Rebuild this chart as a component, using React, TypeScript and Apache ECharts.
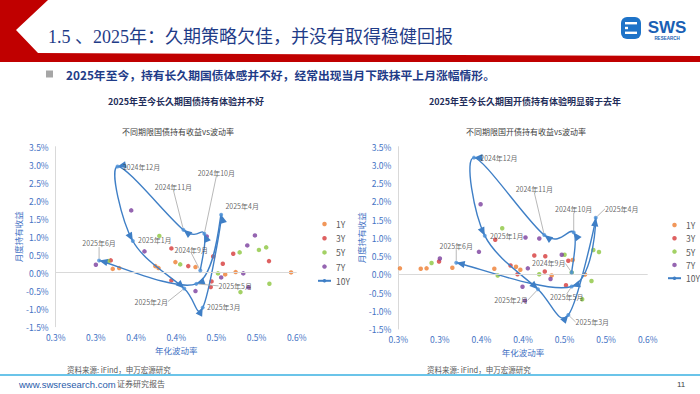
import React, { useEffect, useRef } from "react";
import * as echarts from "echarts";

// ---------- data ----------
const legendNames = ["1Y", "3Y", "5Y", "7Y", "10Y"];
const monthLabels = [
  "2024年9月", "2024年10月", "2024年11月", "2024年12月", "2025年1月",
  "2025年2月", "2025年3月", "2025年4月", "2025年5月", "2025年6月",
];

// 国债 (left)  [annualised volatility %, monthly holding return %]
const gz1Y = [[0.321, 0.106], [0.329, 0.128], [0.374, 0.183], [0.378, 0.128], [0.399, 0.294], [0.424, 0.156], [0.461, -0.047], [0.474, 0.017], [0.543, 0.008]];
const gz3Y = [[0.3185, 0.342], [0.394, 0.675], [0.415, 0.183], [0.446, 0.453], [0.458, 0.25], [0.471, 0.528], [0.5155, 0.322], [0.394, -0.214], [0.444, -0.242], [0.443, -0.4]];
const gz5Y = [[0.3155, 0.322], [0.379, 1.022], [0.405, 0.231], [0.479, 0.564], [0.503, 0.633], [0.512, 0.703], [0.452, -0.019], [0.516, -0.306], [0.48, -0.539]];
const gz7Y = [[0.3, 0.222], [0.344, 1.731], [0.3605, 0.592], [0.4885, 0.758], [0.498, 1.036], [0.438, 1.008], [0.456, -0.131], [0.4835, -0.019], [0.424, -0.511], [0.49, -0.408]];
const gz10Y = [[0.43, 0.06], [0.435, 1.08], [0.409, 1.19], [0.327, 2.95], [0.346, 0.88], [0.41, -0.44], [0.433, -0.97], [0.456, 1.61], [0.425, -0.31], [0.304, 0.34]];

// 国开债 (right)
const gk1Y = [[0.252, 0.164], [0.277, 0.153], [0.284, 0.164], [0.315, 0.181], [0.3655, 0.153], [0.3916, 0.208], [0.3968, 0.126], [0.4345, -0.033], [0.4598, 0.392], [0.4746, -0.005]];
const gk3Y = [[0.299, 0.351], [0.3666, 0.948], [0.385, 0.241], [0.3934, 0.003], [0.4136, 0.515], [0.4268, 0.496], [0.4545, 0.373], [0.4262, 0.077], [0.4517, -0.301]];
const gk5Y = [[0.29, 0.31], [0.375, 1.263], [0.45, 0.537], [0.4846, 0.666], [0.4914, 0.611], [0.3696, -0.033], [0.4195, 0.003], [0.4586, 0.049], [0.4824, -0.184], [0.4712, -0.685]];
const gk7Y = [[0.3, 0.433], [0.349, 1.921], [0.347, 0.616], [0.403, 1.008], [0.4196, 0.981], [0.4466, 0.537], [0.4058, 0.164], [0.4331, -0.129], [0.3994, -0.34], [0.4024, -0.723]];
const gk10Y = [[0.4586, 0.05], [0.461, 1.15], [0.4256, 1.077], [0.341, 3.2], [0.354, 1.06], [0.418, -0.41], [0.4545, -1.115], [0.4875, 1.55], [0.4586, -0.334], [0.3197, 0.318]];

// ---------- label placement (style) ----------
const gzLabelOffsets = [[-9, -21], [12, -61], [-10, -43], [24, 0], [22, -1], [-33, 13], [21, -1], [21, -9], [39, 2], [0, -17]];
const gzLabelLine = [true, true, true, false, false, true, false, false, true, true];
const gkLabelOffsets = [[-23, -9], [0, -23], [-10, -46], [25, 0], [22, 0], [-27, 11], [24, 7], [26, -9], [-5, 11], [0, -17]];
const gkLabelLine = [true, true, true, false, false, true, true, true, true, true];

// ---------- style ----------
const C1 = "#ED7D31";
const C3 = "#D63A3A";
const C5 = "#8CC63F";
const C7 = "#7B3F9E";
const C10 = "#3F7FC6";
const AXIS_BLUE = "#4472C4";
const CJK = "'Noto Sans CJK SC', 'Noto Sans', sans-serif";

function curveRenderer(points: number[][]) {
  return (params: any, api: any) => {
    if (params.dataIndex !== 0) return { type: "group", children: [] };
    const p = points.map((d) => api.coord(d));
    const children: any[] = [];
    const t = 1 / 6;
    for (let i = 0; i < p.length - 1; i++) {
      const p0 = p[i - 1] || p[i];
      const p1 = p[i];
      const p2 = p[i + 1];
      const p3 = p[i + 2] || p[i + 1];
      const c1 = [p1[0] + (p2[0] - p0[0]) * t, p1[1] + (p2[1] - p0[1]) * t];
      const c2 = [p2[0] - (p3[0] - p1[0]) * t, p2[1] - (p3[1] - p1[1]) * t];
      children.push({
        type: "bezierCurve",
        shape: { x1: p1[0], y1: p1[1], cpx1: c1[0], cpy1: c1[1], cpx2: c2[0], cpy2: c2[1], x2: p2[0], y2: p2[1] },
        style: { stroke: C10, lineWidth: 1.4, fill: "none" },
      });
      let dx = p2[0] - c2[0];
      let dy = p2[1] - c2[1];
      let len = Math.hypot(dx, dy);
      if (len < 0.5) {
        dx = p2[0] - p1[0];
        dy = p2[1] - p1[1];
        len = Math.hypot(dx, dy) || 1;
      }
      dx /= len;
      dy /= len;
      const L = 8.5;
      const W = 3.6;
      const bx = p2[0] - dx * L;
      const by = p2[1] - dy * L;
      children.push({
        type: "polygon",
        shape: { points: [[p2[0], p2[1]], [bx - dy * W, by + dx * W], [bx + dy * W, by - dx * W]] },
        style: { fill: C10 },
      });
    }
    return { type: "group", children };
  };
}

function chartSeries(g: number, d1: number[][], d3: number[][], d5: number[][], d7: number[][], d10: number[][], offsets: number[][], lineFlags: boolean[]) {
  const scatter = (name: string, data: number[][], color: string) => ({
    type: "scatter",
    name,
    xAxisIndex: g,
    yAxisIndex: g,
    data,
    symbolSize: 4.5,
    itemStyle: { color },
    z: 3,
  });
  return [
    {
      ...scatter("1Y", d1, C1),
      markLine: {
        silent: true,
        symbol: "none",
        label: { show: false },
        lineStyle: { color: "#d9d9d9", type: "solid", width: 1 },
        data: [{ yAxis: 0 }],
      },
    },
    scatter("3Y", d3, C3),
    scatter("5Y", d5, C5),
    scatter("7Y", d7, C7),
    {
      type: "custom",
      name: "10Y曲线",
      coordinateSystem: "cartesian2d",
      xAxisIndex: g,
      yAxisIndex: g,
      data: d10,
      renderItem: curveRenderer(d10),
      silent: true,
      z: 4,
    },
    {
      type: "scatter",
      name: "10Y点",
      xAxisIndex: g,
      yAxisIndex: g,
      data: d10.map((v, i) => ({ value: v, name: monthLabels[i], labelLine: { show: lineFlags[i] } })),
      symbolSize: 4,
      itemStyle: { color: "#4A8FD6" },
      z: 5,
      label: {
        show: true,
        position: "inside",
        formatter: (p: any) => p.name,
        fontSize: 7,
        fontFamily: CJK,
        color: "#404040",
        textBorderWidth: 0,
      },
      labelLayout: (p: any) => ({ dx: offsets[p.dataIndex][0], dy: offsets[p.dataIndex][1] }),
      labelLine: { show: true, lineStyle: { color: "#a6a6a6", width: 0.8 } },
    },
  ];
}

function axisPair(g: number, yNameGap: number) {
  return {
    x: {
      type: "value",
      gridIndex: g,
      min: 0.25,
      max: 0.55,
      interval: 0.05,
      axisLine: { show: false, onZero: false },
      axisTick: { show: false },
      splitLine: { show: false },
      axisLabel: {
        color: AXIS_BLUE,
        fontSize: 8.5,
        fontFamily: CJK,
        margin: 6,
        formatter: (v: number) => (Math.round(v * 10 + 1e-9) / 10).toFixed(1) + "%",
      },
      name: "年化波动率",
      nameLocation: "middle",
      nameGap: 19,
      nameTextStyle: { color: AXIS_BLUE, fontSize: 8.5, fontFamily: CJK },
    },
    y: {
      type: "value",
      gridIndex: g,
      min: -1.5,
      max: 3.5,
      interval: 0.5,
      axisLine: { show: true, lineStyle: { color: "#d9d9d9", width: 1 } },
      axisTick: { show: false },
      splitLine: { show: false },
      axisLabel: {
        color: AXIS_BLUE,
        fontSize: 8.5,
        fontFamily: CJK,
        margin: 7,
        formatter: (v: number) => v.toFixed(1) + "%",
      },
      name: "月度持有收益",
      nameLocation: "middle",
      nameGap: yNameGap,
      nameTextStyle: { color: AXIS_BLUE, fontSize: 8.5, fontFamily: CJK },
    },
  };
}

function txt(x: number, y: number, text: string, size: number, fill: string, opts: any = {}) {
  const align = opts.align || "left";
  return {
    type: "text",
    x,
    y,
    silent: true,
    style: {
      text,
      fontSize: size,
      fontFamily: opts.family || CJK,
      fontWeight: opts.weight || "normal",
      fill,
      align,
      textAlign: align,
      verticalAlign: "middle",
      textVerticalAlign: "middle",
    },
  };
}

function buildOption() {
  const a0 = axisPair(0, 30);
  const a1 = axisPair(1, 27);
  const legendBase = {
    data: legendNames,
    orient: "vertical",
    itemWidth: 13,
    itemHeight: 4.5,
    padding: 0,
    selectedMode: false,
    textStyle: { fontSize: 8.5, color: "#595959", fontFamily: CJK, lineHeight: 10 },
  };
  return {
    animation: false,
    backgroundColor: "#ffffff",
    textStyle: { fontFamily: CJK },
    grid: [
      { left: 55.7, top: 146.7, width: 241, height: 180 },
      { left: 398.3, top: 146.7, width: 249.4, height: 182.3 },
    ],
    xAxis: [a0.x, a1.x],
    yAxis: [a0.y, a1.y],
    legend: [
      { ...legendBase, left: 317, top: 219, itemGap: 4.2 },
      { ...legendBase, left: 667, top: 220, itemGap: 3.3 },
    ],
    series: [
      ...chartSeries(0, gz1Y, gz3Y, gz5Y, gz7Y, gz10Y, gzLabelOffsets, gzLabelLine),
      ...chartSeries(1, gk1Y, gk3Y, gk5Y, gk7Y, gk10Y, gkLabelOffsets, gkLabelLine),
      {
        type: "line",
        name: "10Y",
        xAxisIndex: 0,
        yAxisIndex: 0,
        data: [],
        symbol: "circle",
        symbolSize: 4,
        itemStyle: { color: C10 },
        lineStyle: { color: C10, width: 1.4 },
      },
    ],
    graphic: [
      // header red shape
      {
        type: "polygon",
        silent: true,
        shape: { points: [[0, 0], [48, 0], [16, 30], [38, 53], [700, 56], [700, 62], [0, 62]] },
        style: { fill: "#C00000" },
      },
      // logo
      { type: "rect", silent: true, shape: { x: 621, y: 17, width: 20, height: 22, r: 6 }, style: { fill: "#1E73C8" } },
      { type: "rect", silent: true, shape: { x: 625, y: 22, width: 12, height: 2.4 }, style: { fill: "#ffffff" } },
      { type: "rect", silent: true, shape: { x: 625, y: 26.8, width: 3, height: 2.4 }, style: { fill: "#ffffff" } },
      { type: "rect", silent: true, shape: { x: 625, y: 31.6, width: 12, height: 2.4 }, style: { fill: "#ffffff" } },
      txt(667, 27, "SWS", 17, "#1A5FB4", { align: "center", weight: "bold", family: "'Liberation Sans', Arial, sans-serif" }),
      txt(667, 38.5, "RESEARCH", 4.5, "#1A5FB4", { align: "center", weight: "bold", family: "'Liberation Sans', Arial, sans-serif" }),
      // title
      txt(48, 37, "1.5 、2025年：久期策略欠佳，并没有取得稳健回报", 18, "#1F3C88", { family: "'Liberation Serif', 'Noto Sans CJK SC', serif" }),
      // bullet
      { type: "rect", silent: true, shape: { x: 46, y: 70.5, width: 7, height: 7 }, style: { fill: "#A6A6A6" } },
      txt(66, 74, "2025年至今，持有长久期国债体感并不好，经常出现当月下跌抹平上月涨幅情形。", 11.8, "#1F3C88", { weight: "bold" }),
      // chart titles
      txt(186, 101, "2025年至今长久期国债持有体验并不好", 9, "#1F2D5A", { align: "center", weight: "bold" }),
      txt(525, 101, "2025年至今长久期国开债持有体验明显弱于去年", 9, "#1F2D5A", { align: "center", weight: "bold" }),
      txt(178, 131, "不同期限国债持有收益vs波动率", 8, "#404040", { align: "center" }),
      txt(526, 131, "不同期限国开债持有收益vs波动率", 8, "#404040", { align: "center" }),
      // sources
      txt(67, 369, "资料来源: iFind，申万宏源研究", 7.5, "#595959"),
      txt(427, 369, "资料来源: iFind，申万宏源研究", 7.5, "#595959"),
      // footer
      { type: "line", silent: true, shape: { x1: 0, y1: 375, x2: 700, y2: 375 }, style: { stroke: "#3AB0E2", lineWidth: 1.5 } },
      txt(19, 384, "www.swsresearch.com", 9.5, "#2A5CAA", { family: "'Liberation Sans', Arial, sans-serif" }),
      txt(117, 383, "证券研究报告", 8, "#595959"),
      txt(677, 384, "11", 8, "#404040", { family: "'Liberation Sans', Arial, sans-serif" }),
    ],
  };
}

export default function App() {
  const ref = useRef<HTMLDivElement>(null);
  useEffect(() => {
    if (!ref.current) return;
    const chart = echarts.init(ref.current, null, { renderer: "svg" });
    chart.setOption(buildOption() as any);
    return () => chart.dispose();
  }, []);
  return (
    <div
      ref={ref}
      style={{ position: "fixed", left: 0, top: 0, width: 700, height: 394, background: "#ffffff" }}
    />
  );
}
